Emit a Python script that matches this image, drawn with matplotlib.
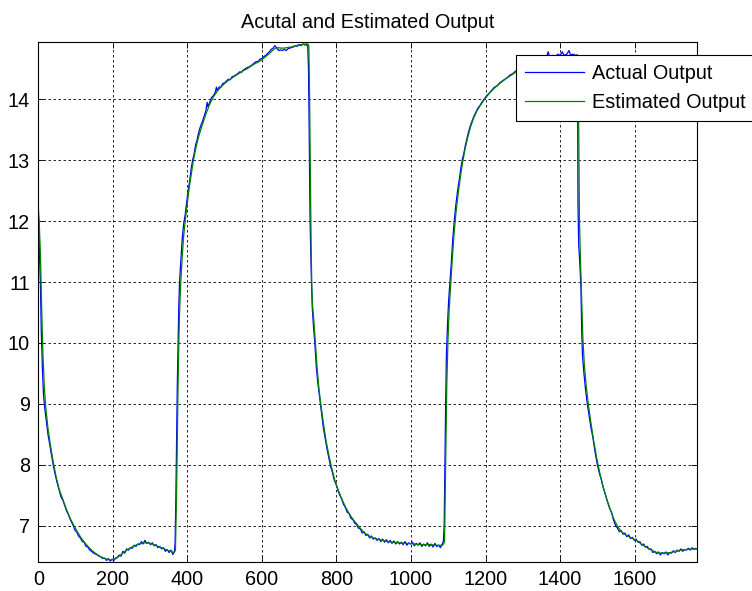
import numpy as np
import matplotlib
matplotlib.use("Agg")
import matplotlib.pyplot as plt

# (sample, value)
actual_pts = [
    (0, 12.15), (2, 11.9), (4, 11.3), (6, 10.9), (8, 10.2), (11, 9.6), (14, 9.15), (17, 8.95),
    (21, 8.75), (26, 8.5), (31, 8.32), (36, 8.15), (40, 8.0), (45, 7.85), (50, 7.72), (56, 7.58),
    (61, 7.47), (66, 7.42), (71, 7.33), (76, 7.24), (81, 7.18), (86, 7.1), (90, 7.05), (94, 7.0),
    (98, 6.93), (103, 6.9), (108, 6.83), (113, 6.8), (118, 6.74), (123, 6.73), (128, 6.66),
    (133, 6.65), (138, 6.6), (143, 6.58), (148, 6.55), (153, 6.54), (158, 6.52), (163, 6.5),
    (168, 6.49), (173, 6.46), (178, 6.47), (183, 6.43), (188, 6.46), (193, 6.42), (198, 6.45),
    (203, 6.43), (207, 6.47), (212, 6.48), (217, 6.52), (222, 6.5), (227, 6.58), (232, 6.55),
    (237, 6.62), (242, 6.6), (247, 6.64), (252, 6.63), (257, 6.68), (262, 6.66), (267, 6.7),
    (272, 6.69), (277, 6.74), (281, 6.7), (286, 6.76), (291, 6.71), (296, 6.73), (301, 6.69),
    (306, 6.72), (311, 6.67), (316, 6.69), (321, 6.64), (326, 6.66), (331, 6.62), (336, 6.64),
    (341, 6.58), (346, 6.61), (351, 6.56), (356, 6.6), (361, 6.53), (365, 6.57),
    (367, 6.7), (369, 7.4), (371, 8.4), (373, 9.3), (375, 10.0), (377, 10.6), (379, 11.0),
    (382, 11.3), (386, 11.7), (390, 11.95), (394, 12.1), (398, 12.3), (402, 12.5), (406, 12.65),
    (410, 12.85), (414, 13.0), (418, 13.1), (422, 13.25), (426, 13.33), (430, 13.45), (435, 13.55),
    (440, 13.63), (445, 13.72), (450, 13.82), (453, 13.95), (455, 13.88), (460, 13.95), (465, 14.03),
    (470, 14.06), (475, 14.12), (478, 14.2), (480, 14.14), (485, 14.2), (490, 14.2), (495, 14.26),
    (500, 14.27), (505, 14.3), (510, 14.33), (515, 14.32), (520, 14.37), (525, 14.38), (530, 14.4),
    (535, 14.42), (540, 14.45), (545, 14.44), (550, 14.48), (555, 14.5), (560, 14.52), (565, 14.53),
    (570, 14.55), (575, 14.57), (580, 14.6), (585, 14.62), (590, 14.62), (595, 14.66), (600, 14.67),
    (605, 14.7), (610, 14.72), (615, 14.75), (620, 14.78), (625, 14.82), (630, 14.84), (635, 14.88),
    (640, 14.84), (645, 14.8), (650, 14.81), (655, 14.8), (660, 14.82), (665, 14.8), (670, 14.83),
    (675, 14.84), (680, 14.85), (685, 14.86), (690, 14.88), (695, 14.87), (700, 14.9), (705, 14.88),
    (710, 14.91), (715, 14.89), (720, 14.9), (723, 14.86),
    (725, 14.5), (727, 13.4), (729, 12.1), (731, 11.5), (733, 11.0), (735, 10.6), (738, 10.3),
    (742, 10.0), (746, 9.6), (750, 9.35), (754, 9.15), (757, 9.0), (761, 8.8), (765, 8.6),
    (770, 8.42), (775, 8.25), (780, 8.1), (784, 7.98), (789, 7.88), (794, 7.75), (799, 7.68),
    (804, 7.58), (809, 7.5), (814, 7.44), (819, 7.35), (824, 7.3), (829, 7.22), (834, 7.2),
    (839, 7.12), (844, 7.1), (849, 7.04), (854, 7.02), (859, 6.96), (864, 6.95), (869, 6.88),
    (874, 6.9), (879, 6.84), (884, 6.86), (889, 6.8), (894, 6.83), (899, 6.78), (904, 6.8),
    (909, 6.76), (914, 6.79), (919, 6.74), (924, 6.78), (929, 6.73), (934, 6.77), (939, 6.72),
    (944, 6.76), (949, 6.71), (954, 6.75), (959, 6.7), (964, 6.74), (969, 6.7), (974, 6.73),
    (979, 6.69), (984, 6.74), (989, 6.68), (994, 6.72), (999, 6.7), (1004, 6.73), (1009, 6.67),
    (1014, 6.71), (1019, 6.68), (1024, 6.72), (1029, 6.66), (1034, 6.7), (1039, 6.67), (1044, 6.72),
    (1049, 6.66), (1054, 6.7), (1059, 6.65), (1064, 6.71), (1069, 6.66), (1074, 6.68), (1079, 6.64),
    (1084, 6.7), (1087, 6.75),
    (1089, 7.0), (1091, 8.0), (1093, 9.0), (1095, 9.8), (1098, 10.3), (1101, 10.7), (1104, 10.95),
    (1108, 11.3), (1112, 11.7), (1116, 12.0), (1120, 12.25), (1125, 12.5), (1130, 12.7),
    (1134, 12.88), (1138, 13.02), (1142, 13.12), (1146, 13.25), (1150, 13.35), (1155, 13.48),
    (1160, 13.58), (1165, 13.66), (1170, 13.74), (1175, 13.8), (1180, 13.86), (1185, 13.9),
    (1190, 13.95), (1197, 14.01), (1203, 14.06), (1210, 14.1), (1217, 14.15), (1224, 14.2),
    (1231, 14.22), (1238, 14.27), (1245, 14.3), (1252, 14.33), (1259, 14.36), (1266, 14.4),
    (1273, 14.42), (1280, 14.46), (1287, 14.48), (1294, 14.5), (1301, 14.53), (1308, 14.56),
    (1315, 14.57), (1322, 14.6), (1329, 14.6), (1336, 14.63), (1343, 14.64), (1350, 14.67),
    (1357, 14.66), (1364, 14.7), (1368, 14.78), (1372, 14.7), (1380, 14.72), (1388, 14.71),
    (1395, 14.74), (1400, 14.72), (1406, 14.78), (1410, 14.72), (1418, 14.74), (1424, 14.8),
    (1428, 14.73), (1435, 14.74), (1442, 14.72), (1446, 14.73),
    (1447, 14.4), (1448, 12.3), (1450, 11.6), (1453, 11.3), (1456, 10.9), (1458, 10.2), (1460, 9.8),
    (1464, 9.5), (1468, 9.25), (1473, 9.0), (1478, 8.8), (1483, 8.6), (1488, 8.45), (1494, 8.2),
    (1500, 8.0), (1505, 7.87), (1510, 7.77), (1516, 7.62), (1522, 7.5), (1527, 7.4), (1532, 7.3),
    (1538, 7.22), (1543, 7.1), (1549, 7.0), (1554, 6.96), (1559, 6.9), (1564, 6.92), (1569, 6.86),
    (1574, 6.88), (1579, 6.82), (1584, 6.85), (1589, 6.79), (1594, 6.81), (1599, 6.76), (1604, 6.78),
    (1609, 6.73), (1614, 6.74), (1619, 6.68), (1624, 6.7), (1629, 6.65), (1634, 6.66), (1639, 6.61),
    (1644, 6.62), (1649, 6.56), (1654, 6.58), (1659, 6.54), (1664, 6.57), (1669, 6.52), (1674, 6.56),
    (1679, 6.54), (1684, 6.57), (1689, 6.52), (1694, 6.56), (1699, 6.55), (1704, 6.59), (1709, 6.56),
    (1714, 6.6), (1719, 6.58), (1724, 6.62), (1729, 6.58), (1734, 6.61), (1739, 6.6), (1744, 6.63),
    (1749, 6.6), (1754, 6.64), (1759, 6.61), (1764, 6.63), (1766, 6.62),
]

estimated_pts = [
    (0, 12.25), (3, 11.9), (6, 11.4), (9, 10.6), (12, 9.9), (16, 9.3), (20, 8.95), (26, 8.6),
    (32, 8.35), (40, 8.05), (48, 7.8), (56, 7.6), (65, 7.45), (75, 7.28), (85, 7.13), (95, 7.01),
    (105, 6.9), (115, 6.8), (125, 6.72), (135, 6.65), (145, 6.59), (155, 6.54), (165, 6.5),
    (175, 6.47), (185, 6.45), (195, 6.44), (205, 6.45), (215, 6.49), (225, 6.54), (235, 6.59),
    (245, 6.63), (255, 6.66), (265, 6.69), (275, 6.71), (285, 6.72), (295, 6.72), (305, 6.7),
    (315, 6.68), (325, 6.65), (335, 6.63), (345, 6.6), (355, 6.58), (365, 6.56), (368, 6.6),
    (371, 7.5), (373, 8.4), (375, 9.3), (377, 10.0), (379, 10.5), (382, 10.95), (386, 11.4),
    (390, 11.75), (395, 12.05), (400, 12.3), (405, 12.55), (410, 12.75), (415, 12.95), (420, 13.12),
    (425, 13.26), (430, 13.38), (440, 13.58), (450, 13.76), (460, 13.92), (470, 14.04), (480, 14.13),
    (490, 14.2), (500, 14.26), (510, 14.31), (520, 14.35), (530, 14.39), (540, 14.43), (550, 14.47),
    (560, 14.5), (570, 14.54), (580, 14.58), (590, 14.61), (600, 14.65), (610, 14.7), (620, 14.75),
    (630, 14.81), (640, 14.85), (650, 14.84), (660, 14.84), (670, 14.85), (680, 14.86), (690, 14.88),
    (700, 14.89), (710, 14.9), (720, 14.91), (725, 14.9),
    (726, 14.85), (728, 14.0), (730, 12.8), (732, 11.6), (734, 10.9), (736, 10.6), (739, 10.4),
    (743, 10.05), (748, 9.6), (753, 9.25), (758, 9.0), (765, 8.68), (772, 8.4), (780, 8.15),
    (788, 7.93), (796, 7.74), (805, 7.58), (815, 7.43), (825, 7.3), (835, 7.19), (845, 7.1),
    (856, 7.02), (868, 6.93), (880, 6.86), (895, 6.81), (910, 6.78), (930, 6.75), (950, 6.73),
    (970, 6.72), (990, 6.71), (1010, 6.7), (1030, 6.69), (1050, 6.69), (1070, 6.68), (1085, 6.68),
    (1089, 6.72),
    (1090, 6.75), (1092, 7.6), (1094, 8.5), (1096, 9.3), (1099, 10.0), (1102, 10.5), (1106, 10.9),
    (1110, 11.3), (1115, 11.75), (1120, 12.1), (1126, 12.42), (1132, 12.7), (1138, 12.95),
    (1145, 13.18), (1152, 13.37), (1160, 13.55), (1168, 13.69), (1176, 13.8), (1185, 13.89),
    (1195, 13.98), (1205, 14.06), (1215, 14.13), (1225, 14.19), (1240, 14.27), (1255, 14.34),
    (1270, 14.4), (1285, 14.46), (1300, 14.51), (1320, 14.57), (1340, 14.62), (1360, 14.66),
    (1380, 14.69), (1400, 14.71), (1420, 14.72), (1440, 14.72), (1447, 14.72),
    (1448, 14.7), (1450, 13.5), (1452, 12.0), (1455, 11.3), (1458, 10.7), (1461, 10.1), (1465, 9.65),
    (1470, 9.3), (1476, 8.98), (1483, 8.68), (1490, 8.4), (1498, 8.12), (1506, 7.88), (1515, 7.65),
    (1525, 7.44), (1535, 7.26), (1545, 7.1), (1555, 6.98), (1565, 6.9), (1578, 6.84), (1592, 6.8),
    (1605, 6.76), (1618, 6.7), (1630, 6.65), (1642, 6.61), (1655, 6.57), (1668, 6.55), (1680, 6.55),
    (1695, 6.56), (1710, 6.58), (1725, 6.6), (1740, 6.61), (1755, 6.62), (1766, 6.62),
]

x_ticks = [0, 200, 400, 600, 800, 1000, 1200, 1400, 1600]
y_ticks = [7, 8, 9, 10, 11, 12, 13, 14]

plt.rcParams['font.family'] = ['Liberation Sans', 'DejaVu Sans']
plt.rcParams['font.size'] = 14.3

ax_x, ax_y = np.array(actual_pts).T
es_x, es_y = np.array(estimated_pts).T

fig = plt.figure(figsize=(7.52, 5.91), dpi=100)
ax = fig.add_axes([0.0509, 0.0496, 0.8753, 0.8788])

ax.plot(ax_x, ax_y, color='#0000ff', lw=0.9, label='Actual Output')
ax.plot(es_x, es_y, color='#008000', lw=0.9, label='Estimated Output')

ax.set_xlim(0, 1766)
ax.set_ylim(6.41, 14.935)
ax.set_xticks(x_ticks)
ax.set_yticks(y_ticks)
ax.grid(True, color='black', linestyle=(0, (3, 3)), linewidth=0.6)
ax.tick_params(direction='in', top=True, right=True, length=4, width=0.6, pad=6)
for s in ax.spines.values():
    s.set_linewidth(0.8)

ax.set_title('Acutal and Estimated Output', fontsize=14.3, pad=10)

leg = ax.legend(loc='upper left', bbox_to_anchor=(515.7 / 752, 1 - 55 / 591),
                bbox_transform=fig.transFigure, frameon=True, fancybox=False,
                framealpha=1, edgecolor='black', handlelength=3.0,
                handletextpad=0.37, borderpad=0.45, labelspacing=0.5,
                borderaxespad=0)
leg.get_frame().set_linewidth(0.8)

fig.savefig('out.png', dpi=100)
